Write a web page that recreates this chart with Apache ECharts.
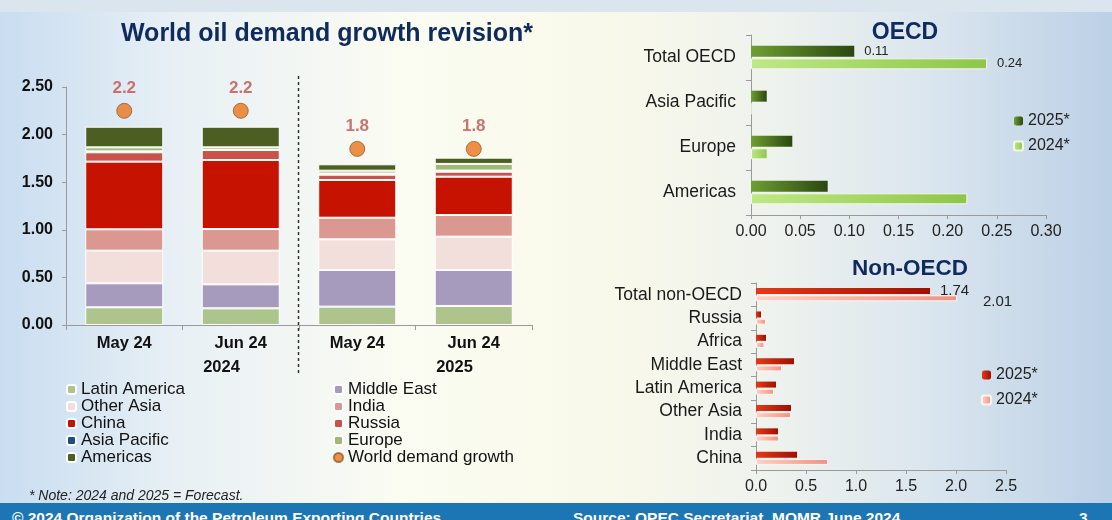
<!DOCTYPE html>
<html>
<head>
<meta charset="utf-8">
<script src="https://cdn.jsdelivr.net/npm/echarts@6/dist/echarts.min.js"></script>
<style>
  html, body { margin: 0; padding: 0; }
  body {
    width: 1112px; height: 520px; overflow: hidden; position: relative;
    background: linear-gradient(90deg, #c9ddf1 0%, #e8f0f5 16%, #fbfcf2 36%, #f9f9ea 55%, #eef2ee 70%, #d8e4ee 85%, #bcd0e6 100%);
    font-family: 'Liberation Sans', Arial, sans-serif;
  }
  #topband { position: absolute; left: 0; top: 0; width: 1112px; height: 12px; background: #dbe5ee; }
  #chart { position: absolute; left: 0; top: 0; width: 1112px; height: 503px; }
  #footer {
    position: absolute; left: 0; top: 503px; width: 1112px; height: 17px;
    background: #1c76b4; color: #fff; font-weight: bold; font-size: 15.5px; overflow: hidden;
  }
  #footer span { position: absolute; top: 6px; line-height: 17px; white-space: nowrap; }
</style>
</head>
<body>
<div id="topband"></div>
<div id="chart"></div>
<div id="footer">
  <span style="left:12px">© 2024 Organization of the Petroleum Exporting Countries</span>
  <span style="left:573px">Source: OPEC Secretariat, MOMR June 2024</span>
  <span style="left:1079px">3</span>
</div>
<script>
  // left chart: stacked regional contributions, mb/d
  const months = ['May 24', 'Jun 24', 'May 24', 'Jun 24']
  const years = ['2024', '2025']
  const latinAmerica = [0.186, 0.175, 0.193, 0.2]
  const middleEast = [0.252, 0.252, 0.385, 0.378]
  const otherAsia = [0.343, 0.354, 0.322, 0.35]
  const india = [0.224, 0.227, 0.227, 0.227]
  const china = [0.711, 0.725, 0.396, 0.403]
  const russia = [0.098, 0.105, 0.056, 0.052]
  const asiaPacific = [0.01, 0.0, 0.012, 0.012]
  const europe = [0.042, 0.028, 0.03, 0.07]
  const americas = [0.217, 0.217, 0.067, 0.066]
  const worldGrowth = [2.25, 2.25, 1.85, 1.85]
  const worldLabels = ['2.2', '2.2', '1.8', '1.8']

  // OECD panel
  const oecdRegions = ['Total OECD', 'Asia Pacific', 'Europe', 'Americas']
  const oecd2025 = [0.105, 0.016, 0.042, 0.078]
  const oecd2024 = [0.24, 0, 0.017, 0.22]
  const oecdLabels2025 = ['0.11', '', '', '']
  const oecdLabels2024 = ['0.24', '', '', '']

  // non-OECD panel
  const nonOecdRegions = ['Total non-OECD', 'Russia', 'Africa', 'Middle East', 'Latin America', 'Other Asia', 'India', 'China']
  const nonOecd2025 = [1.74, 0.05, 0.1, 0.38, 0.2, 0.35, 0.22, 0.41]
  const nonOecd2024 = [2.01, 0.1, 0.085, 0.26, 0.18, 0.35, 0.23, 0.72]
  const nonOecdLabels2025 = ['1.74', '', '', '', '', '', '', '']
  const nonOecdLabels2024 = ['2.01', '', '', '', '', '', '', '']

  const FONT = "'Liberation Sans', Arial, sans-serif"
  const NAVY = '#0f2a5e'
  const AXIS = '#9a9a9a'

  const chart = echarts.init(document.getElementById('chart'), null, { renderer: 'canvas' })

  const grad = (a, b) => new echarts.graphic.LinearGradient(0, 0, 1, 0, [
    { offset: 0, color: a },
    { offset: 1, color: b },
  ])

  const stackSeries = [
    ['Latin America', latinAmerica, '#adc58c'],
    ['Middle East', middleEast, '#a69abd'],
    ['Other Asia', otherAsia, '#f2dedb'],
    ['India', india, '#da9890'],
    ['China', china, '#c61200'],
    ['Russia', russia, '#c9534b'],
    ['Asia Pacific', asiaPacific, '#1d4f86'],
    ['Europe', europe, '#9dbb72'],
    ['Americas', americas, '#4d5e22'],
  ].map(([name, data, color]) => ({
    name,
    type: 'bar',
    stack: 'growth',
    xAxisIndex: 0,
    yAxisIndex: 0,
    barWidth: '67%',
    data,
    itemStyle: { color, borderColor: '#ffffff', borderWidth: 1 },
  }))

  const valueLabel = (labels, distance, extra) => ({
    show: true,
    position: 'right',
    distance,
    fontFamily: FONT,
    fontSize: 13,
    color: '#222',
    formatter: (p) => labels[p.dataIndex],
    ...extra,
  })

  const legendText = { fontFamily: FONT, fontSize: 17, lineHeight: 17, color: '#111' }
  const rightLegendText = { fontFamily: FONT, fontSize: 16, color: '#222' }

  const option = {
    animation: false,
    backgroundColor: 'transparent',
    textStyle: { fontFamily: FONT },
    title: [
      { text: 'World oil demand growth revision*', left: 322, top: 17, textAlign: 'center',
        textStyle: { fontSize: 25, fontWeight: 'bold', color: NAVY, fontFamily: FONT } },
      { text: 'OECD', left: 900, top: 16, textAlign: 'center',
        textStyle: { fontSize: 23, fontWeight: 'bold', color: NAVY, fontFamily: FONT } },
      { text: 'Non-OECD', left: 905, top: 252, textAlign: 'center',
        textStyle: { fontSize: 22.5, fontWeight: 'bold', color: NAVY, fontFamily: FONT } },
      { text: '* Note: 2024 and 2025 = Forecast.', left: 24, top: 484,
        textStyle: { fontSize: 14, fontStyle: 'italic', fontWeight: 'normal', color: '#222', fontFamily: FONT } },
    ],
    legend: [
      { orient: 'vertical', left: 66, top: 381, itemWidth: 9, itemHeight: 9, itemGap: 0,
        textStyle: legendText, padding: 0,
        data: ['Latin America', 'Other Asia', 'China', 'Asia Pacific', 'Americas'] },
      { orient: 'vertical', left: 333, top: 381, itemWidth: 9, itemHeight: 9, itemGap: 0,
        textStyle: legendText, padding: 0,
        data: ['Middle East', 'India', 'Russia', 'Europe', { name: 'World demand growth', icon: 'circle' }] },
      { orient: 'vertical', left: 1013, top: 113, itemWidth: 9, itemHeight: 9, itemGap: 9,
        textStyle: rightLegendText, padding: 0,
        formatter: (n) => n.replace('OECD ', ''),
        data: ['OECD 2025*', 'OECD 2024*'] },
      { orient: 'vertical', left: 981, top: 367, itemWidth: 9, itemHeight: 9, itemGap: 9,
        textStyle: rightLegendText, padding: 0,
        formatter: (n) => n.replace('Non-OECD ', ''),
        data: ['Non-OECD 2025*', 'Non-OECD 2024*'] },
    ],
    grid: [
      { left: 66, top: 87, width: 466, height: 238 },
      { left: 751, top: 35, width: 295, height: 180 },
      { left: 756, top: 283, width: 250, height: 187 },
    ],
    xAxis: [
      { type: 'category', gridIndex: 0, data: months,
        axisLine: { lineStyle: { color: AXIS } },
        axisTick: { show: true, length: 5, lineStyle: { color: AXIS } },
        axisLabel: { fontFamily: FONT, fontSize: 16.5, fontWeight: 'bold', color: '#111', margin: 10 } },
      { type: 'category', gridIndex: 0, data: years, position: 'bottom', offset: 24,
        axisLine: { show: false }, axisTick: { show: false },
        axisLabel: { fontFamily: FONT, fontSize: 16.5, fontWeight: 'bold', color: '#111', margin: 10,
          padding: [0, 0, 0, 78] } },
      { type: 'value', gridIndex: 1, min: 0, max: 0.3, interval: 0.05,
        splitLine: { show: false },
        axisLine: { show: true, lineStyle: { color: AXIS } },
        axisTick: { show: true, length: 4, lineStyle: { color: AXIS } },
        axisLabel: { fontFamily: FONT, fontSize: 16, color: '#222', margin: 9,
          formatter: (v) => v.toFixed(2) } },
      { type: 'value', gridIndex: 2, min: 0, max: 2.5, interval: 0.5,
        splitLine: { show: false },
        axisLine: { show: true, lineStyle: { color: AXIS } },
        axisTick: { show: true, length: 4, lineStyle: { color: AXIS } },
        axisLabel: { fontFamily: FONT, fontSize: 16, color: '#222', margin: 9,
          formatter: (v) => v.toFixed(1) } },
    ],
    yAxis: [
      { type: 'value', gridIndex: 0, min: 0, max: 2.5, interval: 0.5,
        splitLine: { show: false },
        axisLine: { show: true, lineStyle: { color: AXIS } },
        axisTick: { show: true, length: 4, lineStyle: { color: AXIS } },
        axisLabel: { fontFamily: FONT, fontSize: 16, fontWeight: 'bold', color: '#111', margin: 13,
          formatter: (v) => v.toFixed(2) } },
      { type: 'category', gridIndex: 1, data: oecdRegions, inverse: true,
        axisLine: { lineStyle: { color: AXIS } },
        axisTick: { show: true, length: 5, lineStyle: { color: AXIS } },
        axisLabel: { interval: 0, fontFamily: FONT, fontSize: 17.5, color: '#1a1a1a', margin: 15 } },
      { type: 'category', gridIndex: 2, data: nonOecdRegions, inverse: true,
        axisLine: { lineStyle: { color: AXIS } },
        axisTick: { show: true, interval: 0, length: 5, lineStyle: { color: AXIS } },
        axisLabel: { interval: 0, fontFamily: FONT, fontSize: 17.5, color: '#1a1a1a', margin: 14 } },
    ],
    series: [
      ...stackSeries,
      { name: 'World demand growth', type: 'scatter', xAxisIndex: 0, yAxisIndex: 0,
        data: worldGrowth, symbolSize: 15, z: 5,
        itemStyle: { color: '#e8761c', borderColor: '#9a5a30', borderWidth: 1 },
        label: { show: true, position: 'top', distance: 6, fontFamily: FONT, fontSize: 17,
          fontWeight: 'bold', color: '#c0504d', formatter: (p) => worldLabels[p.dataIndex] } },

      { name: 'OECD 2025*', type: 'bar', xAxisIndex: 2, yAxisIndex: 1, data: oecd2025,
        barWidth: 11, barGap: '15%',
        itemStyle: { color: grad('#6f9e32', '#2b4710') },
        label: valueLabel(oecdLabels2025, 10) },
      { name: 'OECD 2024*', type: 'bar', xAxisIndex: 2, yAxisIndex: 1, data: oecd2024,
        barWidth: 11, barGap: '15%',
        itemStyle: { color: grad('#bfe886', '#8dc64a'), borderColor: '#f2f8e6', borderWidth: 1 },
        label: valueLabel(oecdLabels2024, 10) },

      { name: 'Non-OECD 2025*', type: 'bar', xAxisIndex: 3, yAxisIndex: 2, data: nonOecd2025,
        barWidth: 6, barGap: '20%',
        itemStyle: { color: grad('#e23a18', '#a01000') },
        label: valueLabel(nonOecdLabels2025, 10, { fontSize: 15 }) },
      { name: 'Non-OECD 2024*', type: 'bar', xAxisIndex: 3, yAxisIndex: 2, data: nonOecd2024,
        barWidth: 6, barGap: '20%',
        itemStyle: { color: grad('#fcd2c4', '#f09282'), borderColor: '#fff4f0', borderWidth: 1 },
        label: valueLabel(nonOecdLabels2024, 26, { fontSize: 15, offset: [0, 4] }) },
    ],
  }

  chart.setOption(option)

  // dashed divider between the 2024 and 2025 groups
  const jun = chart.convertToPixel({ xAxisIndex: 0 }, 1)
  const may = chart.convertToPixel({ xAxisIndex: 0 }, 2)
  const divX = Math.round((jun + may) / 2) - 0.5
  chart.setOption({
    graphic: [{
      type: 'line', silent: true,
      shape: { x1: divX, y1: 76, x2: divX, y2: 376 },
      style: { stroke: '#333', lineWidth: 1.5, lineDash: [3, 3] },
    }],
  })
</script>
</body>
</html>
